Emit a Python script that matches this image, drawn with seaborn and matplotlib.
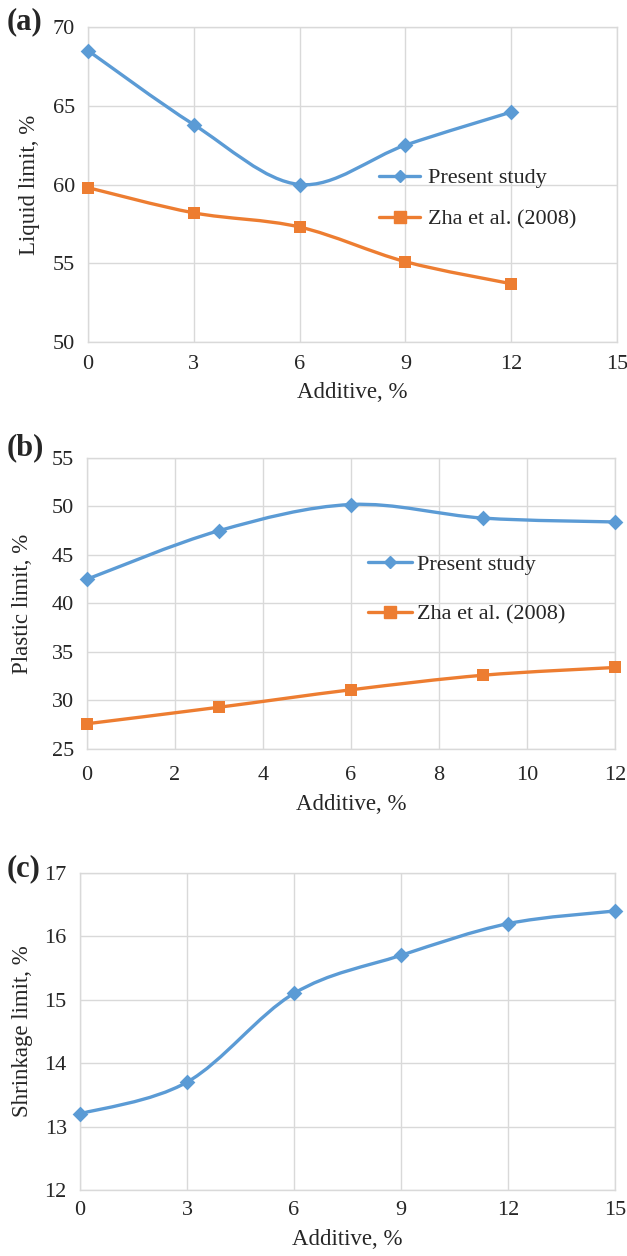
"""Atterberg limits vs additive content, three stacked panels."""

import matplotlib.pyplot as plt
import numpy as np
import seaborn as sns
from matplotlib.lines import Line2D
from matplotlib.patches import PathPatch
from matplotlib.path import Path

# Data
additive = [0, 3, 6, 9, 12]
additive_sl = [0, 3, 6, 9, 12, 15]

ll_present = [68.5, 63.8, 60.0, 62.5, 64.6]
ll_zha = [59.8, 58.2, 57.3, 55.1, 53.7]

pl_present = [42.5, 47.5, 50.2, 48.8, 48.4]
pl_zha = [27.6, 29.3, 31.1, 32.6, 33.4]

sl_present = [13.2, 13.7, 15.1, 15.7, 16.2, 16.4]

series_names = ["Present study", "Zha et al. (2008)"]

BLUE = "#5B9BD5"
ORANGE = "#ED7D31"
GRID = "#D9D9D9"

sns.set_style("whitegrid")
plt.rcParams["font.family"] = ["Liberation Serif", "DejaVu Serif"]
plt.rcParams["axes.edgecolor"] = GRID
plt.rcParams["grid.color"] = GRID
plt.rcParams["grid.linewidth"] = 1.0


def smooth_path(x, y):
    """Excel-style smoothed line (Catmull-Rom as cubic Bezier segments)."""
    pts = np.column_stack([x, y]).astype(float)
    n = len(pts)
    verts = [pts[0]]
    codes = [Path.MOVETO]
    for i in range(n - 1):
        p0 = pts[max(i - 1, 0)]
        p1 = pts[i]
        p2 = pts[i + 1]
        p3 = pts[min(i + 2, n - 1)]
        verts += [p1 + (p2 - p0) / 6, p2 - (p3 - p1) / 6, p2]
        codes += [Path.CURVE4] * 3
    return Path(verts, codes)


def draw_series(ax, x, y, color, marker, size):
    ax.add_patch(
        PathPatch(smooth_path(x, y), fill=False, edgecolor=color, lw=2.4, zorder=3)
    )
    sns.scatterplot(
        x=x, y=y, ax=ax, color=color, marker=marker, s=size**2,
        linewidth=0, zorder=4, clip_on=False,
    )


def style_axes(ax, xlim, xticks, ylim, yticks, ylabel, ylab_x, xlab_y, xpad):
    ax.set_xlim(*xlim)
    ax.set_ylim(*ylim)
    ax.set_xticks(xticks)
    ax.set_yticks(yticks)
    ax.tick_params(axis="both", labelsize=16, length=0)
    ax.tick_params(axis="x", pad=xpad)
    ax.tick_params(axis="y", pad=9.5)
    ax.set_xlabel("Additive, %", fontsize=16.5)
    ax.set_ylabel(ylabel, fontsize=16.5)
    ax.xaxis.set_label_coords(0.5, xlab_y)
    ax.yaxis.set_label_coords(ylab_x, 0.5)
    for sp in ax.spines.values():
        sp.set_color(GRID)
        sp.set_linewidth(1.0)


def add_legend(ax, anchor, spacing, handle_len, text_pad):
    handles = [
        Line2D([], [], color=BLUE, lw=2.4, marker="D", ms=6),
        Line2D([], [], color=ORANGE, lw=2.4, marker="s", ms=9),
    ]
    ax.legend(
        handles, series_names, loc="upper left", bbox_to_anchor=anchor,
        frameon=False, fontsize=16, handlelength=handle_len,
        handletextpad=text_pad, labelspacing=spacing, borderpad=0,
        borderaxespad=0,
    )


fig = plt.figure(figsize=(6.27, 12.56), dpi=100)
ax_a = fig.add_axes([0.1404, 0.7277, 0.8437, 0.2508])
ax_b = fig.add_axes([0.1388, 0.4037, 0.8421, 0.2317])
ax_c = fig.add_axes([0.1276, 0.0526, 0.8533, 0.2524])

# (a) Liquid limit
draw_series(ax_a, additive, ll_present, BLUE, "D", 8)
draw_series(ax_a, additive, ll_zha, ORANGE, "s", 9)
style_axes(ax_a, (0, 15), range(0, 16, 3), (50, 70), range(50, 71, 5),
           "Liquid limit, %", -0.09, -0.128, 9.5)
add_legend(ax_a, (0.550, 0.553), 0.94, 1.85, 0.36)

# (b) Plastic limit
draw_series(ax_b, additive, pl_present, BLUE, "D", 8)
draw_series(ax_b, additive, pl_zha, ORANGE, "s", 9)
style_axes(ax_b, (0, 12), range(0, 13, 2), (25, 55), range(25, 56, 5),
           "Plastic limit, %", -0.102, -0.155, 12)
add_legend(ax_b, (0.532, 0.668), 1.3, 2.0, 0.23)

# (c) Shrinkage limit
draw_series(ax_c, additive_sl, sl_present, BLUE, "D", 8)
style_axes(ax_c, (0, 15), range(0, 16, 3), (12, 17), range(12, 18, 1),
           "Shrinkage limit, %", -0.087, -0.122, 8)

for label, y in [("(a)", 1256 - 22), ("(b)", 1256 - 448), ("(c)", 1256 - 869)]:
    fig.text(7 / 627, y / 1256, label, fontsize=22, fontweight="bold",
             va="center", ha="left")

fig.savefig("out.png", dpi=100)
